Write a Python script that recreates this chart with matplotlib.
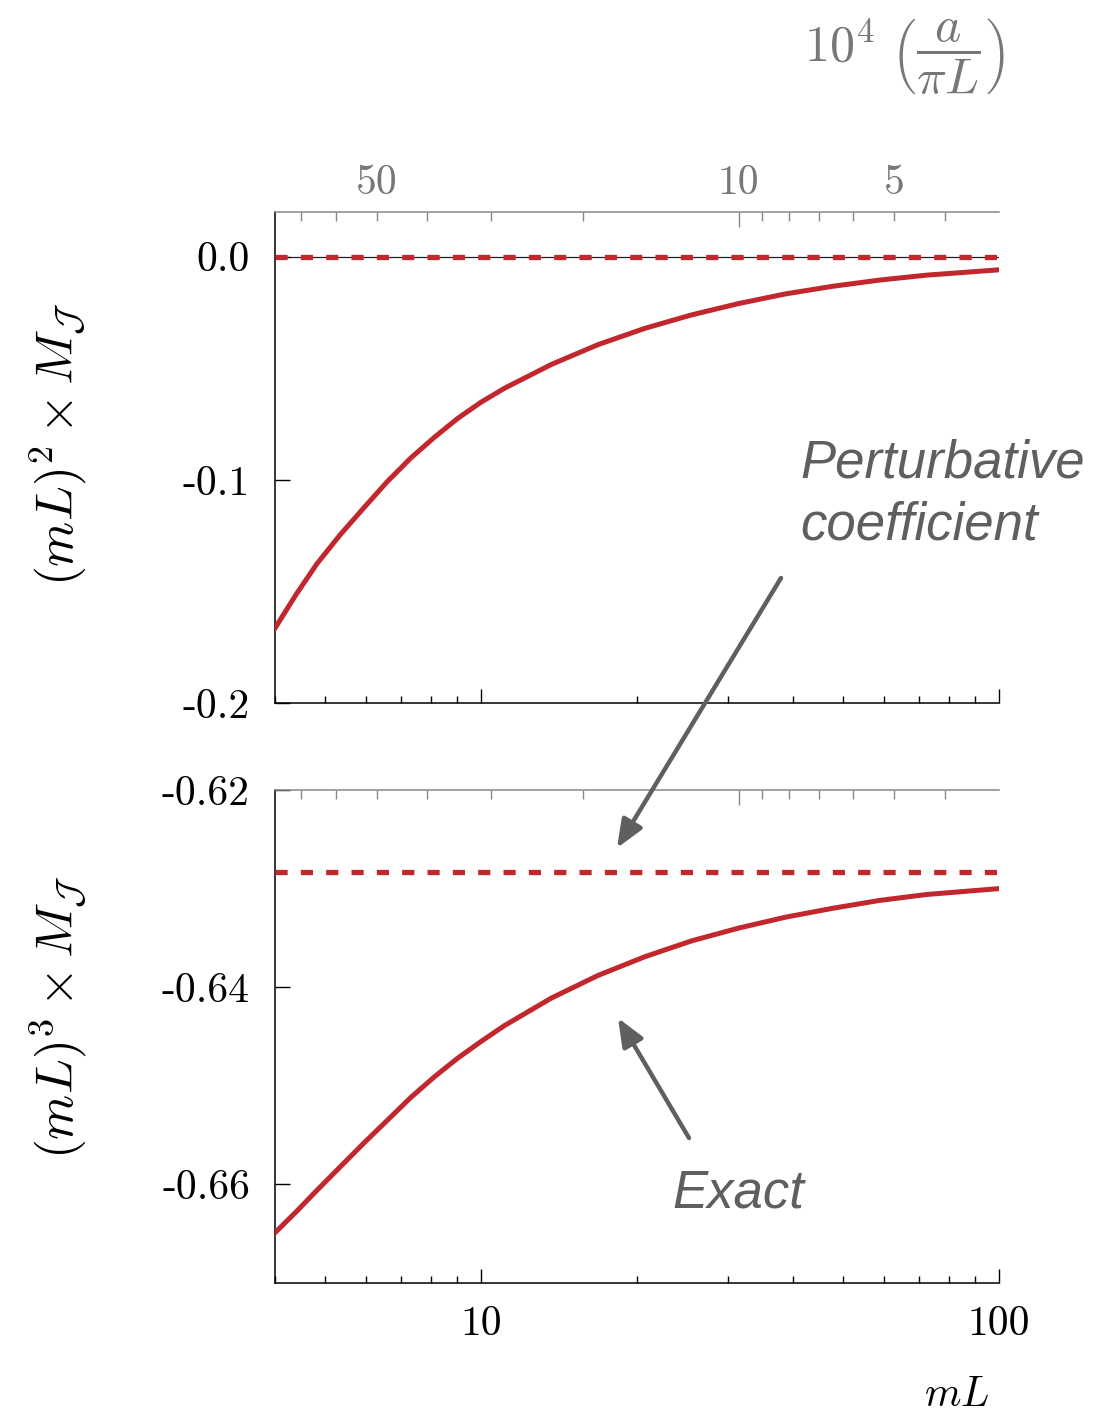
import numpy as np
import matplotlib.pyplot as plt
from matplotlib.patches import FancyArrowPatch
from matplotlib.ticker import FixedLocator, FixedFormatter, NullFormatter, FuncFormatter

plt.rcParams['mathtext.fontset'] = 'cm'
plt.rcParams['font.family'] = 'cmr10'
plt.rcParams['axes.unicode_minus'] = False

# values
mL = [4.0, 4.39, 4.82, 5.35, 5.94, 6.59, 7.31, 8.12, 9.01, 10.0, 11.09,
      13.67, 16.83, 20.73, 25.5, 31.45, 38.7, 47.7, 58.8, 72.4, 100.0]
exact_2 = [-0.1665, -0.1515, -0.1376, -0.1245, -0.1125, -0.1008, -0.0903,
           -0.0810, -0.0725, -0.0652, -0.0590, -0.0483, -0.0394, -0.0321,
           -0.0261, -0.0210, -0.0167, -0.0133, -0.0105, -0.0083, -0.0059]
pert_2 = 0.0
exact_3 = [-0.6649, -0.6628, -0.6606, -0.6582, -0.6558, -0.6535, -0.6512,
           -0.6491, -0.6472, -0.6455, -0.6439, -0.6411, -0.6388, -0.6369,
           -0.6353, -0.6340, -0.6329, -0.6320, -0.6312, -0.6306, -0.6300]
pert_3 = -0.6283

yticks_2 = [0.0, -0.1, -0.2]
ylabels_2 = ['0.0', '-0.1', '-0.2']
yticks_3 = [-0.62, -0.64, -0.66]
ylabels_3 = ['-0.62', '-0.64', '-0.66']

# top axis: 10^4 a/(pi L) = 100*pi/mL
top_major = [10]
top_minor = [4, 5, 6, 7, 8, 9, 20, 30, 40, 50, 60, 70]
top_labelled = [50, 5]

RED = '#C1272D'
GRAY = '#777777'
ARROW = '#5f5f5f'

W, H = 1119, 1417
fig = plt.figure(figsize=(W / 100, H / 100), dpi=100)


def px(x, y):
    return (x / W, 1 - y / H)


ax1 = fig.add_axes([275 / W, 1 - 703 / H, 724 / W, 491 / H])
ax2 = fig.add_axes([275 / W, 1 - 1283 / H, 724 / W, 493 / H])


def style(ax, ylim, yticks, ylabels, bottom_labels):
    ax.set_xscale('log')
    ax.set_xlim(mL[0], mL[-1])
    ax.set_ylim(*ylim)
    for s in ['top', 'right']:
        ax.spines[s].set_visible(False)
    for s in ['left', 'bottom']:
        ax.spines[s].set_linewidth(1.1)
    ax.xaxis.set_major_locator(FixedLocator([10, 100]))
    ax.xaxis.set_minor_locator(FixedLocator([4, 5, 6, 7, 8, 9, 20, 30, 40, 50, 60, 70, 80, 90]))
    if bottom_labels:
        ax.xaxis.set_major_formatter(FixedFormatter(['10', '100']))
    else:
        ax.xaxis.set_major_formatter(NullFormatter())
    ax.xaxis.set_minor_formatter(NullFormatter())
    ax.tick_params(axis='x', which='major', direction='in', length=10, width=1,
                   top=False, labelsize=30, pad=16)
    ax.tick_params(axis='x', which='minor', direction='in', length=5, width=1, top=False)
    ax.set_yticks(yticks)
    ax.set_yticklabels(ylabels)
    ax.tick_params(axis='y', direction='in', length=11, width=1, right=False,
                   labelsize=30, pad=18)

    t = ax.twiny()
    t.set_xscale('log')
    t.set_xlim(100 * np.pi / mL[0], 100 * np.pi / mL[-1])
    for s in ['left', 'right', 'bottom']:
        t.spines[s].set_visible(False)
    t.spines['top'].set_color('#888888')
    t.spines['top'].set_linewidth(1.1)
    t.xaxis.set_major_locator(FixedLocator(top_major))
    t.xaxis.set_minor_locator(FixedLocator(top_minor))
    if bottom_labels:
        t.xaxis.set_major_formatter(NullFormatter())
        t.xaxis.set_minor_formatter(NullFormatter())
    else:
        t.xaxis.set_major_formatter(FixedFormatter([str(v) for v in top_major]))
        t.xaxis.set_minor_formatter(FuncFormatter(
            lambda v, p: str(int(round(v))) if int(round(v)) in top_labelled else ''))
    t.tick_params(axis='x', which='major', direction='in', length=11, width=1,
                  color='#888888', labelcolor=GRAY, labelsize=30, pad=7)
    t.tick_params(axis='x', which='minor', direction='in', length=6.5, width=1,
                  color='#888888', labelcolor=GRAY, labelsize=30, pad=7)
    return t


style(ax1, (-0.2, 0.02), yticks_2, ylabels_2, False)
style(ax2, (-0.67, -0.62), yticks_3, ylabels_3, True)

dash = (0, (2.3, 2.5))
ax1.axhline(0, color='#222222', lw=0.9, zorder=1)
ax1.plot([mL[0], mL[-1]], [pert_2, pert_2], color=RED, lw=3.8,
         linestyle=dash, zorder=3)
ax1.plot(mL, exact_2, color=RED, lw=3.6, zorder=3, solid_joinstyle='round')

ax2.plot([mL[0], mL[-1]], [pert_3, pert_3], color=RED, lw=3.8,
         linestyle=dash, zorder=3)
ax2.plot(mL, exact_3, color=RED, lw=3.6, zorder=3, solid_joinstyle='round')

# axis titles
fig.text(*px(58, 444), r'$(mL)^2\times M_\mathcal{J}$', rotation=90,
         ha='center', va='center', fontsize=37)
fig.text(*px(58, 1017), r'$(mL)^3\times M_\mathcal{J}$', rotation=90,
         ha='center', va='center', fontsize=37)
fig.text(*px(989, 1406), r'$mL$', ha='right', va='baseline', fontsize=30)
fig.text(*px(904, 56), r'$10^4\ \left(\dfrac{a}{\pi L}\right)$', color=GRAY,
         ha='center', va='center', fontsize=36)

# annotations
fig.text(*px(800, 478), 'Perturbative', family='Liberation Sans', style='italic',
         color=ARROW, fontsize=38, va='baseline')
fig.text(*px(800, 540), 'coefficient', family='Liberation Sans', style='italic',
         color=ARROW, fontsize=38, va='baseline')
fig.text(*px(672, 1207), 'Exact', family='Liberation Sans', style='italic',
         color=ARROW, fontsize=38, va='baseline')

for a, b in [((781, 578), (617, 848)), ((689, 1138), (618, 1018))]:
    fig.add_artist(FancyArrowPatch(px(*a), px(*b), transform=fig.transFigure,
                                   arrowstyle='-|>,head_length=0.85,head_width=0.35',
                                   mutation_scale=20, lw=3.2, color=ARROW,
                                   shrinkA=0, shrinkB=0))

fig.savefig('out.png', dpi=100)
